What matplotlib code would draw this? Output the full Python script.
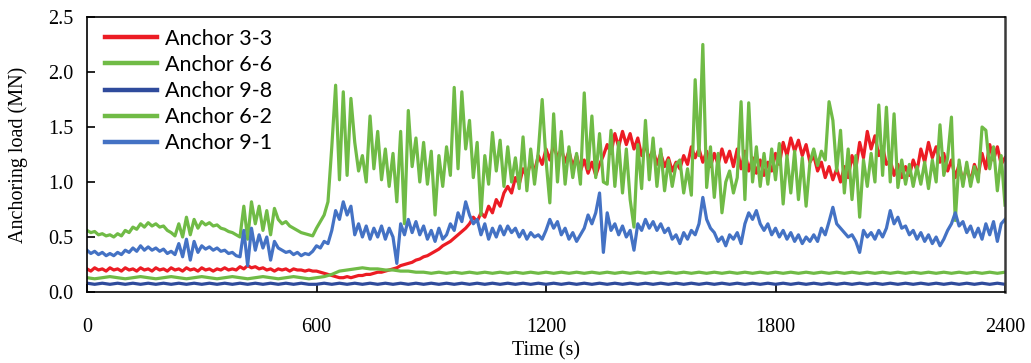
import numpy as np
import matplotlib
matplotlib.use("Agg")
import matplotlib.pyplot as plt

# ── data (MN) ────────────────────────────────────────────────────────────────
T_FINE = np.arange(0, 2401, 10)     # s, main series sampled every 10 s
T_COARSE = np.arange(0, 2401, 20)   # s, the two flat series every 20 s

anchor_3_3 = [
    0.21, 0.19, 0.22, 0.20, 0.21, 0.19, 0.22, 0.20, 0.21, 0.19,
    0.22, 0.20, 0.21, 0.19, 0.22, 0.20, 0.21, 0.19, 0.22, 0.20,
    0.21, 0.19, 0.22, 0.20, 0.21, 0.19, 0.22, 0.20, 0.21, 0.19,
    0.22, 0.20, 0.21, 0.19, 0.21, 0.20, 0.22, 0.20, 0.21, 0.20,
    0.23, 0.21, 0.24, 0.22, 0.23, 0.21, 0.22, 0.20, 0.21, 0.19,
    0.21, 0.20, 0.21, 0.19, 0.21, 0.20, 0.20, 0.19, 0.20, 0.19,
    0.19, 0.18, 0.17, 0.16, 0.15, 0.14, 0.13, 0.13, 0.14, 0.13,
    0.14, 0.15, 0.15, 0.16, 0.16, 0.17, 0.18, 0.18, 0.19, 0.20,
    0.21, 0.22, 0.24, 0.25, 0.26, 0.27, 0.29, 0.30, 0.32, 0.33,
    0.35, 0.37, 0.39, 0.42, 0.44, 0.46, 0.49, 0.52, 0.55, 0.58,
    0.62, 0.68, 0.64, 0.72, 0.68, 0.78, 0.72, 0.84, 0.78, 0.90,
    0.96, 0.90, 1.04, 0.98, 1.12, 1.05, 1.18, 1.10, 1.24, 1.16,
    1.30, 1.20, 1.34, 1.22, 1.30, 1.18, 1.28, 1.14, 1.24, 1.10,
    1.20, 1.08, 1.18, 1.06, 1.16, 1.24, 1.34, 1.26, 1.44, 1.32,
    1.46, 1.34, 1.44, 1.30, 1.40, 1.24, 1.34, 1.20, 1.30, 1.16,
    1.26, 1.14, 1.22, 1.10, 1.18, 1.12, 1.24, 1.16, 1.32, 1.22,
    1.30, 1.18, 1.28, 1.14, 1.26, 1.16, 1.30, 1.18, 1.28, 1.14,
    1.30, 1.12, 1.28, 1.10, 1.22, 1.08, 1.20, 1.06, 1.18, 1.10,
    1.26, 1.16, 1.36, 1.24, 1.40, 1.28, 1.38, 1.24, 1.34, 1.18,
    1.24, 1.10, 1.18, 1.04, 1.14, 1.02, 1.12, 1.00, 1.14, 1.04,
    1.24, 1.12, 1.36, 1.22, 1.46, 1.30, 1.42, 1.24, 1.32, 1.16,
    1.20, 1.06, 1.16, 1.04, 1.14, 1.06, 1.20, 1.10, 1.30, 1.18,
    1.36, 1.22, 1.32, 1.18, 1.26, 1.10, 1.20, 1.04, 1.16, 1.00,
    1.14, 1.00, 1.16, 1.06, 1.26, 1.12, 1.34, 1.20, 1.32, 1.16,
    1.22,
]

anchor_6_6 = [
    0.56, 0.54, 0.55, 0.52, 0.53, 0.51, 0.52, 0.50, 0.53, 0.51,
    0.56, 0.54, 0.59, 0.57, 0.62, 0.59, 0.63, 0.60, 0.62, 0.59,
    0.60, 0.56, 0.54, 0.51, 0.62, 0.50, 0.68, 0.52, 0.66, 0.58,
    0.64, 0.61, 0.63, 0.60, 0.61, 0.58, 0.57, 0.55, 0.54, 0.52,
    0.50, 0.78, 0.48, 0.82, 0.62, 0.78, 0.56, 0.74, 0.52, 0.76,
    0.66, 0.62, 0.64, 0.60, 0.58, 0.56, 0.54, 0.53, 0.52, 0.51,
    0.58, 0.64, 0.70, 0.82, 1.32, 1.88, 1.02, 1.82, 1.06, 1.76,
    1.36, 1.10, 1.24, 1.00, 1.60, 1.12, 1.46, 1.02, 1.30, 0.96,
    1.26, 0.82, 1.46, 0.62, 1.65, 1.14, 1.40, 1.00, 1.36, 0.98,
    1.28, 0.70, 1.24, 0.96, 1.32, 1.06, 1.86, 1.12, 1.82, 1.30,
    1.56, 1.04, 1.36, 0.70, 1.24, 0.98, 1.45, 1.10, 1.38, 0.96,
    1.32, 1.00, 1.22, 0.94, 1.41, 0.92, 1.30, 0.98, 1.28, 1.75,
    1.20, 0.81, 1.62, 1.00, 1.46, 0.98, 1.32, 1.04, 1.26, 0.98,
    1.81, 1.12, 1.60, 1.04, 1.44, 1.00, 0.98, 1.47, 0.96, 1.36,
    0.90, 1.30, 0.84, 0.59, 1.34, 0.94, 1.56, 1.02, 1.40, 0.96,
    1.30, 0.92, 1.20, 0.96, 1.16, 1.20, 0.90, 1.12, 0.88, 1.93,
    1.24, 2.25, 0.95, 1.32, 0.86, 1.26, 0.72, 1.00, 1.10, 0.90,
    1.04, 1.73, 0.84, 1.72, 1.00, 1.32, 0.96, 1.26, 0.98, 1.30,
    1.02, 1.35, 0.80, 1.24, 0.90, 1.28, 0.84, 1.22, 0.78, 1.18,
    1.30, 1.15, 1.28, 1.20, 1.73, 1.56, 1.10, 1.47, 0.90, 1.30,
    0.84, 1.24, 0.68, 1.20, 0.96, 1.26, 1.00, 1.70, 1.06, 1.68,
    1.00, 1.62, 0.95, 1.20, 0.98, 1.16, 0.96, 1.14, 0.98, 1.18,
    0.94, 1.20, 1.00, 1.52, 1.06, 1.22, 1.59, 0.65, 1.20, 0.96,
    1.18, 0.96, 1.14, 1.00, 1.50, 1.47, 1.12, 1.32, 0.92, 1.24,
    0.79,
]

anchor_9_1 = [
    0.38, 0.35, 0.37, 0.34, 0.36, 0.33, 0.35, 0.33, 0.36, 0.34,
    0.38, 0.36, 0.40, 0.37, 0.42, 0.38, 0.41, 0.38, 0.40, 0.37,
    0.39, 0.35, 0.37, 0.34, 0.44, 0.32, 0.48, 0.29, 0.46, 0.36,
    0.42, 0.39, 0.41, 0.38, 0.40, 0.37, 0.38, 0.35, 0.36, 0.33,
    0.32, 0.56, 0.24, 0.58, 0.38, 0.52, 0.40, 0.50, 0.29, 0.46,
    0.40, 0.38, 0.36, 0.37, 0.34, 0.36, 0.33, 0.35, 0.34, 0.37,
    0.42, 0.40, 0.46, 0.44, 0.56, 0.74, 0.66, 0.82, 0.70, 0.78,
    0.52, 0.62, 0.50, 0.60, 0.48, 0.58, 0.50, 0.60, 0.48, 0.58,
    0.50, 0.26, 0.62, 0.52, 0.66, 0.54, 0.64, 0.52, 0.60, 0.48,
    0.56, 0.46, 0.58, 0.48, 0.52, 0.62, 0.56, 0.72, 0.64, 0.82,
    0.70, 0.62, 0.66, 0.52, 0.62, 0.48, 0.58, 0.50, 0.60, 0.52,
    0.60, 0.54, 0.58, 0.50, 0.56, 0.48, 0.54, 0.50, 0.52, 0.48,
    0.56, 0.66, 0.58, 0.64, 0.52, 0.58, 0.48, 0.54, 0.46, 0.52,
    0.58, 0.70, 0.62, 0.72, 0.90, 0.36, 0.72, 0.56, 0.62, 0.52,
    0.60, 0.50, 0.56, 0.38, 0.62, 0.56, 0.66, 0.58, 0.64, 0.56,
    0.62, 0.54, 0.58, 0.48, 0.52, 0.44, 0.54, 0.48, 0.56, 0.52,
    0.62, 0.86, 0.66, 0.58, 0.54, 0.46, 0.50, 0.42, 0.52, 0.48,
    0.54, 0.44, 0.62, 0.72, 0.66, 0.74, 0.62, 0.56, 0.62, 0.52,
    0.58, 0.50, 0.56, 0.48, 0.54, 0.46, 0.52, 0.44, 0.50, 0.46,
    0.52, 0.46, 0.58, 0.52, 0.64, 0.77, 0.62, 0.58, 0.54, 0.50,
    0.52, 0.46, 0.36, 0.56, 0.50, 0.54, 0.48, 0.56, 0.50, 0.58,
    0.74, 0.62, 0.68, 0.58, 0.60, 0.52, 0.56, 0.48, 0.54, 0.46,
    0.52, 0.44, 0.50, 0.42, 0.48, 0.56, 0.62, 0.72, 0.60, 0.64,
    0.54, 0.60, 0.50, 0.58, 0.48, 0.62, 0.52, 0.64, 0.46, 0.62,
    0.66,
]

anchor_6_2 = [
    0.13, 0.12, 0.13, 0.14, 0.13, 0.12, 0.13, 0.14, 0.13, 0.12,
    0.13, 0.14, 0.13, 0.12, 0.13, 0.14, 0.13, 0.12, 0.13, 0.14,
    0.13, 0.12, 0.13, 0.14, 0.13, 0.12, 0.13, 0.14, 0.13, 0.12,
    0.13, 0.14, 0.16, 0.19, 0.20, 0.21, 0.22, 0.21, 0.21, 0.20,
    0.20, 0.19, 0.19, 0.18, 0.18, 0.17, 0.18, 0.17, 0.18, 0.17,
    0.18, 0.17, 0.18, 0.17, 0.18, 0.17, 0.18, 0.17, 0.18, 0.17,
    0.18, 0.17, 0.18, 0.17, 0.18, 0.17, 0.18, 0.17, 0.18, 0.17,
    0.18, 0.17, 0.18, 0.17, 0.18, 0.17, 0.18, 0.17, 0.18, 0.17,
    0.18, 0.17, 0.18, 0.17, 0.18, 0.17, 0.18, 0.17, 0.18, 0.17,
    0.18, 0.17, 0.18, 0.17, 0.18, 0.17, 0.18, 0.17, 0.18, 0.17,
    0.18, 0.17, 0.18, 0.17, 0.18, 0.17, 0.18, 0.17, 0.18, 0.17,
    0.18, 0.17, 0.18, 0.17, 0.18, 0.17, 0.18, 0.17, 0.18, 0.17,
    0.18,
]

anchor_9_8 = [
    0.08, 0.07, 0.08, 0.07, 0.08, 0.07, 0.08, 0.07, 0.08, 0.07,
    0.08, 0.07, 0.08, 0.07, 0.08, 0.07, 0.08, 0.07, 0.08, 0.07,
    0.08, 0.07, 0.08, 0.07, 0.08, 0.07, 0.08, 0.07, 0.08, 0.07,
    0.07, 0.08, 0.07, 0.08, 0.07, 0.08, 0.07, 0.08, 0.07, 0.08,
    0.07, 0.08, 0.07, 0.08, 0.07, 0.08, 0.07, 0.08, 0.07, 0.08,
    0.07, 0.08, 0.07, 0.08, 0.07, 0.08, 0.07, 0.08, 0.07, 0.08,
    0.07, 0.08, 0.07, 0.08, 0.07, 0.08, 0.07, 0.08, 0.07, 0.08,
    0.07, 0.08, 0.07, 0.08, 0.07, 0.08, 0.07, 0.08, 0.07, 0.08,
    0.07, 0.08, 0.07, 0.08, 0.07, 0.08, 0.07, 0.08, 0.07, 0.08,
    0.07, 0.08, 0.07, 0.08, 0.07, 0.08, 0.07, 0.08, 0.07, 0.08,
    0.07, 0.08, 0.07, 0.08, 0.07, 0.08, 0.07, 0.08, 0.07, 0.08,
    0.07, 0.08, 0.07, 0.08, 0.07, 0.08, 0.07, 0.08, 0.07, 0.08,
    0.07,
]

X_TICKS = [0, 600, 1200, 1800, 2400]
Y_TICKS = [0.0, 0.5, 1.0, 1.5, 2.0, 2.5]

RED = "#ec1c24"
GREEN = "#70bb46"
NAVY = "#2f4b9c"
BLUE = "#4472c4"

# ── plot ─────────────────────────────────────────────────────────────────────
fig = plt.figure(figsize=(10.31, 3.63), dpi=100)
ax = fig.add_axes([87 / 1031, 1 - 292 / 363, 918 / 1031, 275 / 363])

lw = 2.3
ax.plot(T_FINE, anchor_3_3, color=RED, lw=lw, label="Anchor 3-3")
ax.plot(T_FINE, anchor_6_6, color=GREEN, lw=lw, label="Anchor 6-6")
ax.plot(T_COARSE, anchor_9_8, color=NAVY, lw=lw, label="Anchor 9-8")
ax.plot(T_COARSE, anchor_6_2, color=GREEN, lw=lw, label="Anchor 6-2")
ax.plot(T_FINE, anchor_9_1, color=BLUE, lw=lw, label="Anchor 9-1")

ax.set_xlim(0, 2400)
ax.set_ylim(0, 2.5)
ax.set_xticks(X_TICKS)
ax.set_yticks(Y_TICKS)
ax.set_yticklabels([f"{v:.1f}" for v in Y_TICKS])

serif = "Liberation Serif"
ax.tick_params(direction="in", length=6, width=1.2, labelsize=14.5, pad=10)
for lab in ax.get_xticklabels() + ax.get_yticklabels():
    lab.set_fontfamily(serif)
ax.tick_params(axis="x", pad=19)

ax.set_xlabel("Time (s)", fontsize=14.5, fontfamily=serif, labelpad=3)
ax.set_ylabel("Anchoring load (MN)", fontsize=14.5, fontfamily=serif, labelpad=14)

for side in ["left", "bottom", "top"]:
    ax.spines[side].set_linewidth(1.2)
    ax.spines[side].set_color("black")
ax.spines["right"].set_linewidth(1.8)
ax.spines["right"].set_color("#3a3a3a")

leg = ax.legend(loc="upper left", bbox_to_anchor=(18 / 918, 1 - 12 / 275),
                frameon=False, borderaxespad=0, borderpad=0,
                handlelength=2.4, handletextpad=0.4, labelspacing=0.28,
                prop={"family": "Lato", "size": 15.5})
for line in leg.get_lines():
    line.set_linewidth(3.2)

fig.savefig("out.png", dpi=100)
